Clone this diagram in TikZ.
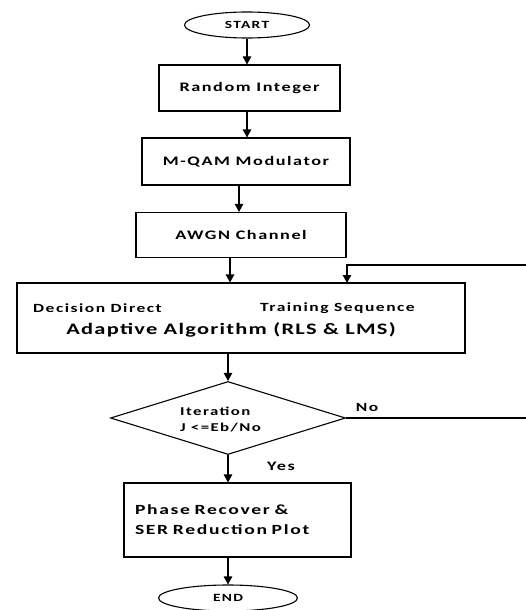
\documentclass[tikz,border=0pt]{standalone}
\usepackage{fontspec}
\setmainfont{Carlito}[FakeStretch=1.4, LetterSpace=12]
\newfontfamily\algfont{Carlito}[FakeStretch=1.4, LetterSpace=8]
\usetikzlibrary{shapes.geometric,arrows.meta}
\begin{document}
\begin{tikzpicture}[x=1pt,y=-1pt]
		\tikzset{block/.style = {draw, line width=1.1pt, rectangle, inner sep=2pt, font=\fontsize{13}{15}\selectfont\bfseries},
			term/.style = {draw, line width=1.1pt, ellipse, inner sep=0pt, font=\fontsize{11}{12}\selectfont\bfseries},
			decide/.style = {draw, line width=1.1pt, diamond, aspect=3.2, inner sep=0pt},
			txt/.style = {inner sep=0pt, font=\fontsize{12.5}{14}\selectfont\bfseries},
			arr/.style = {line width=1.1pt, -{Triangle[length=8pt,width=8.5pt]}}}

		\useasboundingbox (0,0) rectangle (526,610);
		\clip (0,0) rectangle (526,610);

		\node[term, minimum width=125pt, minimum height=26pt] (start) at (247,25) {START};
		\node[block, minimum width=181pt, minimum height=46pt] (rand) at (249.5,88) {Random Integer};
		\node[block, minimum width=208pt, minimum height=47pt] (mqam) at (246,161.5) {M-QAM Modulator};
		\node[block, minimum width=210pt, minimum height=45pt] (awgn) at (241,235) {AWGN Channel};
		\node[block, minimum width=448pt, minimum height=70pt] (adapt) at (241,318) {};
		\node[txt, anchor=west] (dd) at (33,308) {Decision Direct};
		\node[txt, anchor=west] (ts) at (260,308) {Training Sequence};
		\node[txt, font=\fontsize{16}{18}\algfont\bfseries] (alg) at (231,330) {Adaptive Algorithm (RLS \& LMS)};
		\node[decide, minimum width=235pt, minimum height=73pt] (iter) at (228,418) {};
		\node[txt, anchor=west, align=left, font=\fontsize{12}{16}\selectfont\bfseries] (cond) at (180,420) {Iteration\\J <=Eb/No};
		\node[txt] (no) at (367,407) {No};
		\node[txt, font=\fontsize{13}{15}\selectfont\bfseries] (yes) at (281,466) {Yes};
		\node[block, minimum width=227pt, minimum height=74pt, align=left, text width=205pt, font=\fontsize{14}{20}\selectfont\bfseries] (phase) at (237.5,520) {Phase Recover \&\\SER Reduction Plot};
		\node[term, minimum width=139pt, minimum height=26pt] (end) at (228,598) {END};

		\coordinate (fb) at (540,265);
		\coordinate (tsin) at (347,283);

		\draw[arr] (start.south) -- (start.south |- rand.north);
		\draw[arr] (start.south |- rand.south) -- (start.south |- mqam.north);
		\draw[arr] (mqam.south -| 239,0) -- (awgn.north -| 239,0);
		\draw[arr] (awgn.south -| 230,0) -- (adapt.north -| 230,0);
		\draw[arr] (adapt.south -| iter.north) -- (iter.north);
		\draw[arr] (iter.south) -- (iter.south |- phase.north);
		\draw[arr] (phase.south -| end.north) -- (end.north);
		\draw[arr] (iter.east) -| (fb) -| (tsin);

	\end{tikzpicture}
\end{document}
